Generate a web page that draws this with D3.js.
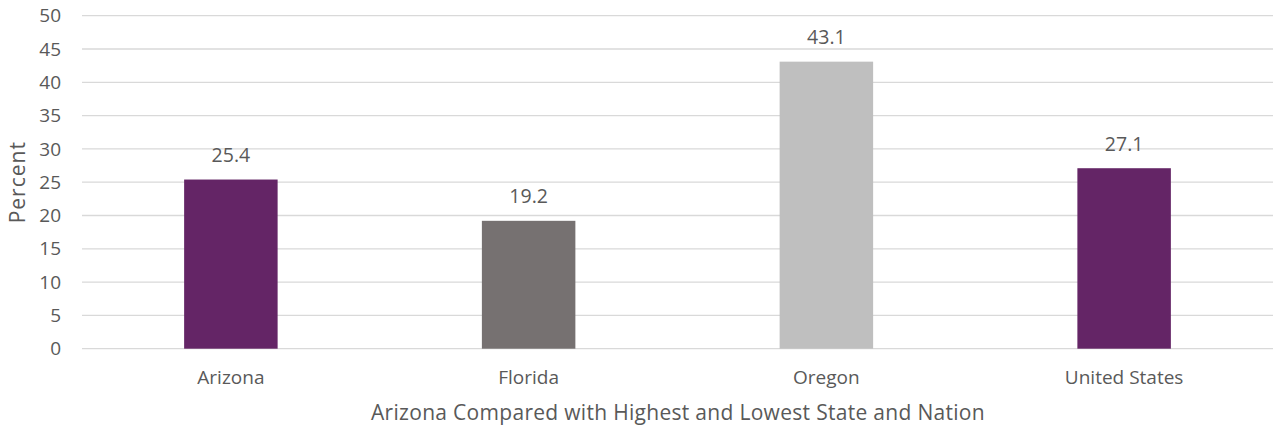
<!DOCTYPE html>
<html>
<head>
<meta charset="utf-8">
<script src="https://cdn.jsdelivr.net/npm/d3@7"></script>
<style>
  html, body { margin: 0; padding: 0; background: #fff; }
  svg { display: block; }
  text { font-family: "Open Sans", "DejaVu Sans", sans-serif; fill: #595959; }
</style>
</head>
<body>
<svg id="chart" width="1275" height="427"></svg>
<script>
const categories = ["Arizona", "Florida", "Oregon", "United States"];
const values = [25.4, 19.2, 43.1, 27.1];
const barColors = ["#642566", "#767171", "#BFBFBF", "#642566"];
const yTicks = [0, 5, 10, 15, 20, 25, 30, 35, 40, 45, 50];
const yTitle = "Percent";
const xTitle = "Arizona Compared with Highest and Lowest State and Nation";

const svg = d3.select("#chart");
const plotLeft = 82, plotRight = 1273, plotTop = 15.7, plotBottom = 348.7;

const x = d3.scaleBand().domain(categories).range([plotLeft, plotRight]).paddingInner(0.686).paddingOuter(0.343);
const y = d3.scaleLinear().domain([0, 50]).range([plotBottom, plotTop]);

// horizontal gridlines
svg.append("g").selectAll("line").data(yTicks).join("line")
  .attr("x1", plotLeft).attr("x2", plotRight)
  .attr("y1", d => y(d)).attr("y2", d => y(d))
  .attr("stroke", "#D9D9D9").attr("stroke-width", 1.3);

// y tick labels
svg.append("g").selectAll("text").data(yTicks).join("text")
  .attr("x", 61).attr("y", d => y(d)).attr("dy", "0.35em")
  .attr("text-anchor", "end").style("font-size", "19px")
  .text(d => d);

// bars
svg.append("g").selectAll("rect").data(categories).join("rect")
  .attr("x", d => x(d)).attr("width", x.bandwidth())
  .attr("y", (d, i) => y(values[i]))
  .attr("height", (d, i) => y(0) - y(values[i]))
  .attr("fill", (d, i) => barColors[i]);

// value labels
svg.append("g").selectAll("text").data(categories).join("text")
  .attr("x", d => x(d) + x.bandwidth() / 2)
  .attr("y", (d, i) => y(values[i]) - 17.5)
  .attr("text-anchor", "middle").style("font-size", "19.5px")
  .text((d, i) => values[i].toFixed(1));

// category labels
svg.append("g").selectAll("text").data(categories).join("text")
  .attr("x", d => x(d) + x.bandwidth() / 2)
  .attr("y", 384)
  .attr("text-anchor", "middle").style("font-size", "19px")
  .text(d => d);

// axis titles
svg.append("text")
  .attr("x", (plotLeft + plotRight) / 2 + 0.5).attr("y", 419.5)
  .attr("text-anchor", "middle").style("font-size", "21px")
  .style("letter-spacing", "0.3px")
  .text(xTitle);

svg.append("text")
  .attr("transform", `translate(25,${(plotTop + plotBottom) / 2}) rotate(-90)`)
  .attr("text-anchor", "middle").style("font-size", "21px")
  .style("letter-spacing", "1px")
  .text(yTitle);
</script>
</body>
</html>
